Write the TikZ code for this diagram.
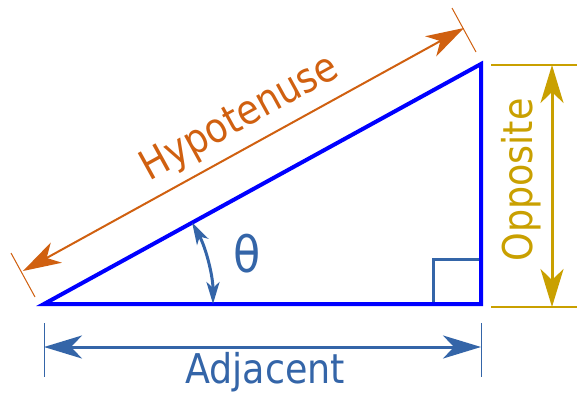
\documentclass[tikz,border=0pt]{standalone}
\usepackage{fontspec}
\usetikzlibrary{arrows.meta}
\newfontfamily\labfont[FakeStretch=0.89]{DejaVu Sans}
\definecolor{triblue}{HTML}{0000FF}
\definecolor{steel}{HTML}{3465A8}
\definecolor{hypo}{HTML}{D06010}
\definecolor{gold}{HTML}{C9A000}
\tikzset{
  bigboth/.style={{Stealth[length=38pt,width=23pt,inset=11pt]}-{Stealth[length=38pt,width=23pt,inset=11pt]}},
  smallboth/.style={{Stealth[length=22pt,width=13pt,inset=6pt]}-{Stealth[length=22pt,width=13pt,inset=6pt]}},
  lab/.style={font=\labfont\fontsize{41}{41}\selectfont, inner sep=0pt},
  tick/.style={line width=1pt}
}
\begin{document}
\begin{tikzpicture}[x=1pt,y=-1pt]
\useasboundingbox (0,0) rectangle (577,395);
% triangle
\coordinate (A) at (44,304);
\coordinate (B) at (481,304);
\coordinate (C) at (481,64);
% right angle square
\draw[steel, line width=3pt] (433,304) -- (433,259) -- (481,259);
\draw[triblue, line width=4pt, line join=miter] (A) -- (B) -- (C) -- cycle;
% angle arc
\coordinate (arcS) at (213,304);
\draw[steel, line width=3pt, smallboth] (arcS) arc[start angle=0, end angle=-28.8, radius=169];
\node[lab, text=steel, font=\labfont\fontsize{50}{50}\selectfont] (theta) at (247,254) {θ};
% adjacent
\coordinate (a1) at (44,323); \coordinate (a2) at (44,377);
\coordinate (b1) at (481,323); \coordinate (b2) at (481,377);
\draw[steel, tick] (a1) -- (a2);
\draw[steel, tick] (b1) -- (b2);
\coordinate (adjL) at (44,347); \coordinate (adjR) at (481,347);
\draw[steel, line width=3pt, bigboth] (adjL) -- (adjR);
\node[lab, text=steel] (adj) at (265,372) {Adjacent};
% opposite
\coordinate (o1) at (491,65); \coordinate (o2) at (577,65);
\coordinate (o3) at (491,307); \coordinate (o4) at (577,307);
\draw[gold, line width=1.5pt] (o1) -- (o2);
\draw[gold, line width=1.5pt] (o3) -- (o4);
\coordinate (opT) at (552,65); \coordinate (opB) at (552,307);
\draw[gold, line width=3pt, bigboth] (opT) -- (opB);
\node[lab, text=gold, rotate=90] (opp) at (521,180) {Opposite};
% hypotenuse
\coordinate (h1) at (11,253); \coordinate (h2) at (35,297);
\coordinate (h3) at (452,8); \coordinate (h4) at (476,52);
\draw[hypo, tick] (h1) -- (h2);
\draw[hypo, tick] (h3) -- (h4);
\coordinate (hL) at (23,271); \coordinate (hR) at (464,28);
\draw[hypo, line width=2pt, bigboth] (hL) -- (hR);
\node[lab, text=hypo, rotate=28.8] (hyp) at (240,119) {Hypotenuse};
\end{tikzpicture}
\end{document}
